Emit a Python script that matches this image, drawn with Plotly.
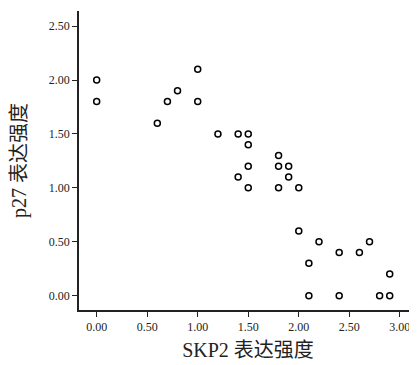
import plotly.graph_objects as go

skp2 = [0.0, 0.0, 0.6, 0.7, 0.8, 1.0, 1.0, 1.2, 1.4, 1.5, 1.5, 1.5, 1.4, 1.5,
        1.8, 1.8, 1.9, 1.9, 1.8, 2.0, 2.0, 2.2, 2.7, 2.4, 2.6, 2.1, 2.9,
        2.1, 2.4, 2.8, 2.9]
p27 = [2.0, 1.8, 1.6, 1.8, 1.9, 2.1, 1.8, 1.5, 1.5, 1.5, 1.4, 1.2, 1.1, 1.0,
       1.3, 1.2, 1.2, 1.1, 1.0, 1.0, 0.6, 0.5, 0.5, 0.4, 0.4, 0.3, 0.2,
       0.0, 0.0, 0.0, 0.0]
x_ticks = [0, 0.5, 1.0, 1.5, 2.0, 2.5, 3.0]
y_ticks = [0, 0.5, 1.0, 1.5, 2.0, 2.5]
x_title = "SKP2 表达强度"
y_title = "p27 表达强度"

font_family = "Liberation Serif, Times New Roman, Noto Sans CJK SC, serif"

fig = go.Figure(go.Scatter(
    x=skp2, y=p27, mode="markers",
    marker=dict(symbol="circle-open", size=6, color="black", line=dict(width=1.5, color="black")),
    showlegend=False,
))

fig.update_layout(
    width=409, height=357,
    margin=dict(l=71, r=0, t=3, b=55),
    paper_bgcolor="white", plot_bgcolor="white",
    font=dict(family=font_family, color="#222"),
    xaxis=dict(
        range=[-0.175, 3.17], tickvals=x_ticks,
        ticktext=[f"{v:.2f}" for v in x_ticks],
        ticks="outside", ticklen=5, tickwidth=1.2, tickcolor="#222",
        showline=True, linecolor="#222", linewidth=1.5,
        showgrid=False, zeroline=False,
        tickfont=dict(size=12, family=font_family),
        title=dict(text=x_title, font=dict(size=20, family=font_family), standoff=10),
    ),
    yaxis=dict(
        range=[-0.133, 2.64], tickvals=y_ticks,
        ticktext=[f"{v:.2f}" for v in y_ticks],
        ticks="outside", ticklen=5, tickwidth=1.2, tickcolor="#222",
        showline=True, linecolor="#222", linewidth=1.5,
        showgrid=False, zeroline=False,
        tickfont=dict(size=12, family=font_family),
        title=dict(text=y_title, font=dict(size=20, family=font_family), standoff=26),
    ),
)

fig.write_html("out.html")
